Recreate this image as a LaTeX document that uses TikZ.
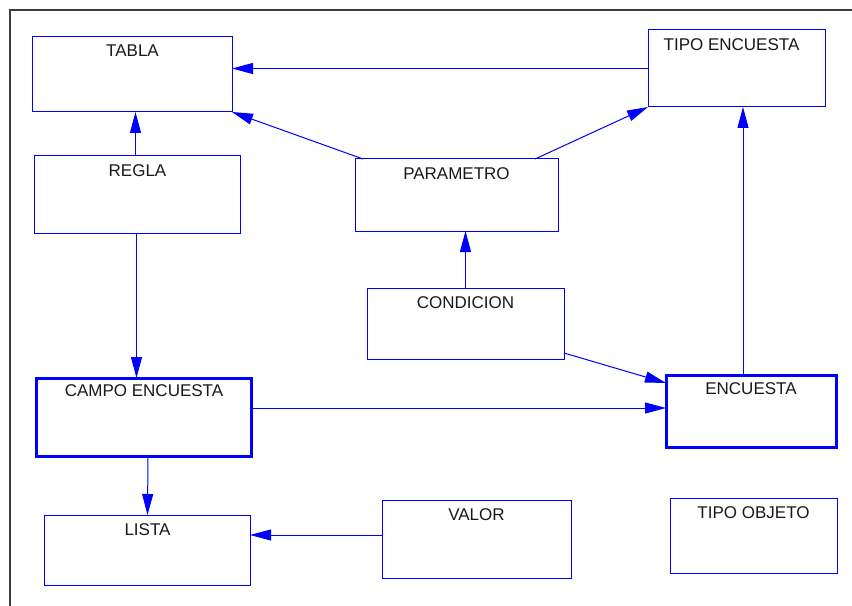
\documentclass[tikz,border=0pt]{standalone}
\usepackage{fontspec}
\setmainfont{Liberation Sans}
\usetikzlibrary{arrows.meta}
\definecolor{linkblue}{RGB}{0,0,255}
\definecolor{framegray}{RGB}{60,60,60}
\begin{document}
\begin{tikzpicture}[x=1bp,y=-1bp,
  entity/.style={draw=linkblue,line width=1bp,inner sep=0,outer sep=0},
  strong/.style={entity,line width=3bp},
  lbl/.style={anchor=north,yshift=-8bp,inner sep=0,font=\fontsize{17bp}{20bp}\selectfont,text=black!90},
  link/.style={draw=linkblue,line width=1bp,-{Triangle[length=21bp,width=11bp]}},
  frame/.style={draw=framegray,line width=1.2bp}]
\useasboundingbox (0,0) rectangle (852,606);
\fill[white] (0,0) rectangle (852,606);
% outer frame
\draw[frame] (10,606) -- (10,10) -- (852,10);
% entities
\node[entity,minimum width=199bp,minimum height=75bp,label={[lbl]north:TABLA}] (tabla) at (132.5,74.5) {};
\node[entity,minimum width=177bp,minimum height=77bp,label={[lbl,xshift=-5bp]north:TIPO ENCUESTA}] (tipo) at (736.5,68.5) {};
\node[entity,minimum width=205bp,minimum height=77bp,label={[lbl]north:REGLA}] (regla) at (137.5,194.5) {};
\node[entity,minimum width=203bp,minimum height=72bp,label={[lbl]north:PARAMETRO}] (param) at (456.5,195) {};
\node[entity,minimum width=197bp,minimum height=71bp,label={[lbl]north:CONDICION}] (cond) at (465.5,323.5) {};
\node[strong,minimum width=214bp,minimum height=78bp,label={[lbl,yshift=2bp]north:CAMPO ENCUESTA}] (campo) at (144,417) {};
\node[strong,minimum width=170bp,minimum height=72bp,label={[lbl,yshift=1bp]north:ENCUESTA}] (enc) at (751,411) {};
\node[entity,minimum width=205bp,minimum height=70bp,label={[lbl]north:LISTA}] (lista) at (147.5,550) {};
\node[entity,minimum width=189bp,minimum height=78bp,label={[lbl]north:VALOR}] (valor) at (476.5,539) {};
\node[entity,minimum width=167bp,minimum height=75bp,label={[lbl]north:TIPO OBJETO}] (tobj) at (753.5,535.5) {};
% relationships
\draw[link] (tipo.west) -- (tipo.west -| tabla.east);
\draw[link] ([xshift=8bp]param.north west) -- (tabla.south east);
\draw[link] ([xshift=-23bp]param.north east) -- (tipo.south west);
\draw[link] ([xshift=-2bp]regla.north) -- ([xshift=-2bp]regla.north |- tabla.south);
\draw[link] ([xshift=-1bp]regla.south) -- ([xshift=-1bp]regla.south |- campo.north);
\draw[link] (cond.north) -- (cond.north |- param.south);
\draw[link] ([yshift=6bp]cond.south east) -- ([yshift=-8bp]enc.north west);
\draw[link] ([yshift=9bp]campo.east) -- ([yshift=9bp]campo.east -| enc.west);
\draw[link] ([xshift=-8bp]enc.north) -- ([xshift=-8bp]enc.north |- tipo.south);
\draw[link] ([xshift=4bp]campo.south) -- (lista.north);
\draw[link] ([yshift=4bp]valor.west) -- ([yshift=4bp]valor.west -| lista.east);
\end{tikzpicture}
\end{document}
